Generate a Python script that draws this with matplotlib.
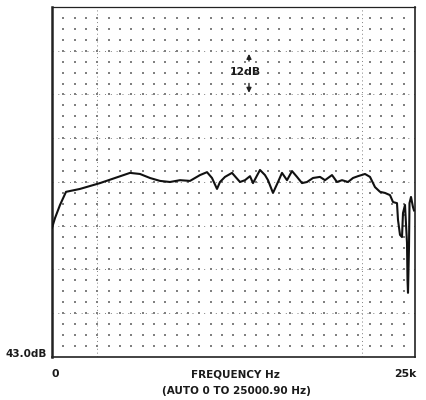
import numpy as np
import matplotlib.pyplot as plt

# frequency response (Hz, dB)
freq = [0, 207, 551, 964, 1928, 3306, 4339, 5372, 6060, 6749, 7438, 8127,
        8815, 9504, 10193, 10675, 11019, 11364, 11570, 11914, 12397, 12947,
        13292, 13636, 13843, 14325, 14669, 14876, 15220, 15565, 15840, 16185,
        16529, 16873, 17218, 17562, 17975, 18457, 18802, 19284, 19628, 19972,
        20386, 20730, 21074, 21556, 21901, 22245, 22590, 22934, 23278, 23485,
        23760, 23829, 23967, 24105, 24174, 24311, 24449, 24484, 24518, 24587,
        24621, 24725, 24862, 24931]
level = [78.4, 81.1, 84.7, 88.3, 89.1, 90.7, 92.1, 93.5, 93.2, 92.1, 91.3, 91.0,
         91.5, 91.3, 92.9, 93.7, 92.1, 89.1, 91.0, 92.4, 93.5, 91.0,
         91.5, 92.6, 90.7, 94.3, 92.9, 91.5, 88.0, 91.0, 93.5, 91.5,
         94.0, 92.4, 90.7, 91.0, 92.1, 92.4, 91.5, 92.9, 91.0, 91.5,
         91.0, 92.1, 92.6, 93.2, 92.4, 89.6, 88.3, 88.0, 87.4, 85.5,
         85.2, 80.6, 76.5, 75.9, 82.5, 84.7, 74.3, 64.1, 60.6, 73.2,
         85.2, 86.9, 84.1, 83.2]

f_min, f_max = 0, 25000
db_min, db_max = 43.0, 139.0

fig = plt.figure(figsize=(4.27, 4.0), dpi=100)
ax = fig.add_axes([52/427, 43/400, 363/427, 350/400])
ax.set_xlim(f_min, f_max)
ax.set_ylim(db_min, db_max)

# dotted measurement grid
gx = np.linspace(f_min, f_max, 33)[1:-1]
gy = np.arange(db_min + 3, db_max, 3)
GX, GY = np.meshgrid(gx, gy)
ax.scatter(GX.ravel(), GY.ravel(), s=1.0, marker='s', color='0.5',
           linewidths=0, zorder=1)
for y in np.arange(db_min + 12, db_max, 12):
    ax.axhline(y, color='0.5', lw=0.7, ls=(0, (1, 5)), zorder=1)
for x in [3100, 21350]:
    ax.axvline(x, color='0.5', lw=0.7, ls=(0, (1, 3)), zorder=1)

ax.plot(freq, level, color='#111111', lw=1.5, zorder=3)

# 12 dB scale marker
ax.annotate('', xy=(13567, 126.9), xytext=(13567, 123.4),
            arrowprops=dict(arrowstyle='-|>', color='#222222', lw=1.0,
                            mutation_scale=7))
ax.annotate('', xy=(13567, 114.7), xytext=(13567, 118.8),
            arrowprops=dict(arrowstyle='-|>', color='#222222', lw=1.0,
                            mutation_scale=7))
font = dict(family='DejaVu Sans', weight='bold', color='#1a1a1a')
ax.text(13300, 121.2, '12dB', ha='center', va='center', fontsize=7.8, **font)

ax.set_xticks([])
ax.set_yticks([])
for side, sp in ax.spines.items():
    sp.set_color('#222222')
    sp.set_linewidth(1.2)
ax.spines['left'].set_linewidth(1.8)
ax.spines['top'].set_linewidth(0.9)

ax.text(-0.014, 0.008, '43.0dB', transform=ax.transAxes, ha='right',
        va='center', fontsize=7.5, **font)
ax.text(0.008, -0.049, '0', transform=ax.transAxes, ha='center',
        va='center', fontsize=7.8, **font)
ax.text(0.504, -0.049, 'FREQUENCY Hz', transform=ax.transAxes, ha='center',
        va='center', fontsize=7.5, **font)
ax.text(0.974, -0.049, '25k', transform=ax.transAxes, ha='center',
        va='center', fontsize=7.8, **font)
ax.text(0.508, -0.097, '(AUTO 0 TO 25000.90 Hz)', transform=ax.transAxes,
        ha='center', va='center', fontsize=7.5, **font)

fig.savefig('out.png', dpi=100, facecolor='white')
